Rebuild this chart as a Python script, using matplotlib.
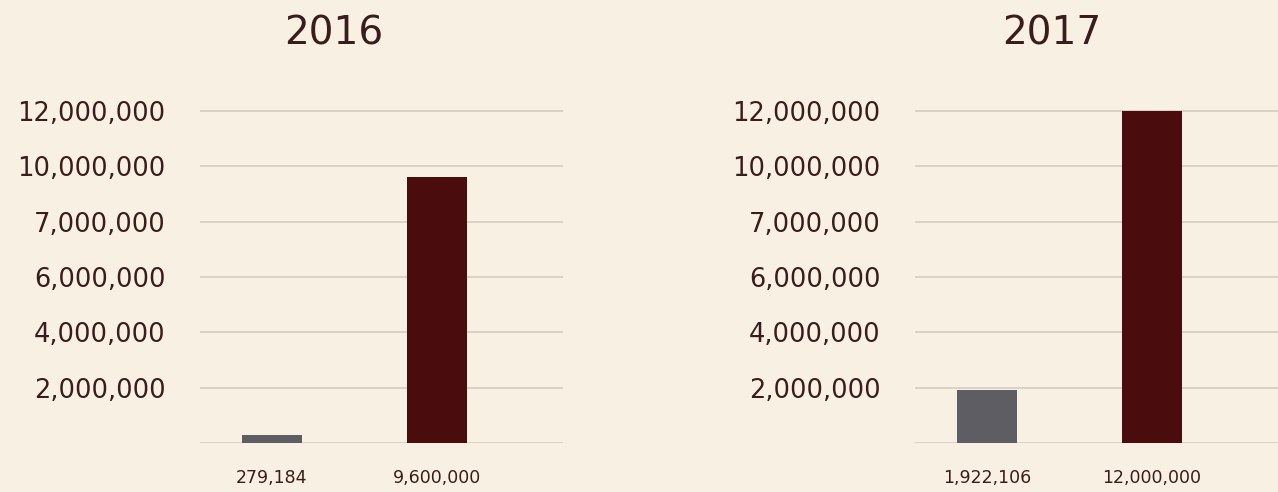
import matplotlib.pyplot as plt

plt.rcParams['font.family'] = ['DejaVu Sans']

years = ['2016', '2017']
bar_labels = [['279,184', '9,600,000'], ['1,922,106', '12,000,000']]
values = [[279184, 9600000], [1922106, 12000000]]
ytick_vals = [0, 2000000, 4000000, 6000000, 8000000, 10000000, 12000000]
ytick_labels = ['', '2,000,000', '4,000,000', '6,000,000', '7,000,000', '10,000,000', '12,000,000']

bg = '#f8f0e3'
txt = '#3a1c1c'
bar_colors = ['#5e5d63', '#4b0c0d']

fig = plt.figure(figsize=(12.78, 4.92), dpi=100, facecolor=bg)

W, H = 1278, 492
panels = [(200, 334), (915, 1052)]  # axes left px, title centre px

for i, (left, tx) in enumerate(panels):
    ax = fig.add_axes([left / W, 1 - 443 / H, 363 / W, 348.6 / H])
    ax.set_facecolor('none')
    ax.bar([0, 1], values[i], width=0.36, color=bar_colors, zorder=3)
    ax.set_xlim(-0.436, 1.764)
    ax.set_ylim(0, 12600000)
    ax.set_yticks(ytick_vals)
    ax.set_yticklabels(ytick_labels, fontsize=18.5, color=txt)
    ax.set_xticks([0, 1])
    ax.set_xticklabels(bar_labels[i], fontsize=12.5, color=txt)
    ax.tick_params(axis='y', length=0, pad=25)
    ax.tick_params(axis='x', length=0, pad=19)
    ax.yaxis.grid(True, color='#d6cdbf', lw=1.2, zorder=0)
    for s in ax.spines.values():
        s.set_visible(False)
    fig.text(tx / W, 1 - 33 / H, years[i], fontsize=28, color=txt,
             ha='center', va='center')

fig.savefig('out.png', dpi=100, facecolor=bg)
